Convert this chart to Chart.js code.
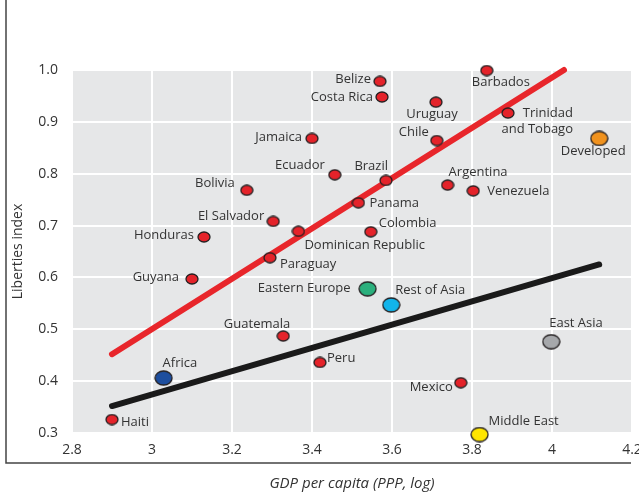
<!DOCTYPE html>
<html>
<head>
<meta charset="utf-8">
<script src="https://cdn.jsdelivr.net/npm/chart.js@4/dist/chart.umd.min.js"></script>
<style>
  html, body { margin: 0; padding: 0; background: #fff; }
  #wrap { width: 639px; height: 494px; position: relative; }
</style>
</head>
<body>
<div id="wrap"><canvas id="chart" width="639" height="494"></canvas></div>
<script>
// Country points (red)
const countryNames = ['Belize', 'Costa Rica', 'Barbados', 'Uruguay', 'Trinidad\nand Tobago', 'Chile',
  'Jamaica', 'Ecuador', 'Brazil', 'Argentina', 'Venezuela', 'Bolivia', 'Panama', 'El Salvador',
  'Colombia', 'Dominican Republic', 'Honduras', 'Paraguay', 'Guyana', 'Guatemala', 'Peru', 'Mexico', 'Haiti'];
const countryGdp = [3.57, 3.575, 3.837, 3.71, 3.89, 3.712, 3.40, 3.457, 3.585, 3.739, 3.803, 3.237, 3.516, 3.303,
  3.547, 3.366, 3.13, 3.295, 3.10, 3.328, 3.42, 3.772, 2.90];
const countryLib = [0.978, 0.948, 0.999, 0.938, 0.917, 0.864, 0.868, 0.798, 0.787, 0.778, 0.767, 0.768, 0.744, 0.708,
  0.688, 0.689, 0.678, 0.638, 0.597, 0.487, 0.436, 0.397, 0.326];

// Region averages (large coloured points)
const regionNames = ['Developed', 'Eastern Europe', 'Rest of Asia', 'East Asia', 'Africa', 'Middle East'];
const regionGdp = [4.118, 3.539, 3.598, 3.998, 3.029, 3.819];
const regionLib = [0.868, 0.578, 0.547, 0.476, 0.406, 0.297];

// Fitted lines (end points)
const redLineGdp = [2.90, 4.03];
const redLineLib = [0.452, 1.0];
const blackLineGdp = [2.90, 4.118];
const blackLineLib = [0.352, 0.625];

// Tick labels
const xTickLabels = ['2.8', '3', '3.2', '3.4', '3.6', '3.8', '4', '4.2'];
const yTickLabels = ['0.3', '0.4', '0.5', '0.6', '0.7', '0.8', '0.9', '1.0'];

// Label placement: [dx, dy, align]
const countryLabelPos = {
  'Belize': [-9, -2, 'right'], 'Costa Rica': [-9, 0, 'right'], 'Barbados': [-15, 12, 'left'],
  'Uruguay': [-4, 12, 'center'], 'Trinidad\nand Tobago': [65, 0, 'right'], 'Chile': [-8, -8, 'right'],
  'Jamaica': [-10, -1, 'right'], 'Ecuador': [-10, -9, 'right'], 'Brazil': [2, -14, 'right'],
  'Argentina': [1, -13, 'left'], 'Venezuela': [14, 0, 'left'], 'Bolivia': [-12, -7, 'right'],
  'Panama': [11, 1, 'left'], 'El Salvador': [-9, -5, 'right'], 'Colombia': [8, -8, 'left'],
  'Dominican Republic': [6, 14, 'left'], 'Honduras': [-10, -2, 'right'], 'Paraguay': [10, 7, 'left'],
  'Guyana': [-13, -2, 'right'], 'Guatemala': [7, -12, 'right'], 'Peru': [7, -4, 'left'],
  'Mexico': [-8, 5, 'right'], 'Haiti': [9, 3, 'left']
};
const regionLabelPos = {
  'Developed': [-6, 13, 'center'], 'Eastern Europe': [-17, -1, 'right'], 'Rest of Asia': [4, -15, 'left'],
  'East Asia': [-2, -18, 'left'], 'Africa': [-1, -15, 'left'], 'Middle East': [9, -13, 'left']
};
const regionColors = ['#f0921e', '#2bb07d', '#12b4ea', '#a6a8ab', '#1d4e9e', '#ffe600'];

const FONT = '"Open Sans", "DejaVu Sans", sans-serif';
const TEXT = '#333333';

function ellipse(w, h, fill) {
  const c = document.createElement('canvas');
  c.width = w + 2; c.height = h + 2;
  const g = c.getContext('2d');
  g.beginPath();
  g.ellipse(c.width / 2, c.height / 2, w / 2, h / 2, 0, 0, Math.PI * 2);
  g.fillStyle = fill;
  g.fill();
  g.lineWidth = 1.3;
  g.strokeStyle = '#231f20';
  g.stroke();
  return c;
}

const redDot = ellipse(12, 10, '#e4232a');
const regionDots = regionColors.map(c => ellipse(17, 14, c));

const plotBg = {
  id: 'plotBg',
  beforeDraw(chart) {
    const { ctx, chartArea: a } = chart;
    ctx.save();
    ctx.fillStyle = '#e6e7e8';
    ctx.fillRect(a.left, a.top, a.right - a.left, a.bottom - a.top);
    ctx.restore();
  },
  afterDraw(chart) {
    const { ctx } = chart;
    ctx.save();
    ctx.strokeStyle = '#444';
    ctx.lineWidth = 1.5;
    ctx.beginPath();
    ctx.moveTo(6, 0);
    ctx.lineTo(6, 463);
    ctx.lineTo(631, 463);
    ctx.stroke();
    ctx.restore();
  }
};

const pointLabels = {
  id: 'pointLabels',
  afterDatasetsDraw(chart) {
    const { ctx } = chart;
    ctx.save();
    ctx.font = '13px ' + FONT;
    ctx.fillStyle = TEXT;
    ctx.textBaseline = 'middle';
    const sets = [[2, countryNames, countryLabelPos], [3, regionNames, regionLabelPos]];
    sets.forEach(([di, names, pos]) => {
      const meta = chart.getDatasetMeta(di);
      meta.data.forEach((pt, i) => {
        const p = pos[names[i]];
        ctx.textAlign = p[2];
        names[i].split('\n').forEach((line, j) => {
          ctx.fillText(line, pt.x + p[0], pt.y + p[1] + j * 16);
        });
      });
    });
    ctx.restore();
  }
};

new Chart(document.getElementById('chart'), {
  type: 'scatter',
  data: {
    datasets: [
      {
        type: 'line', order: 2,
        data: redLineGdp.map((x, i) => ({ x, y: redLineLib[i] })),
        borderColor: '#e8262b', borderWidth: 6, borderCapStyle: 'round',
        pointRadius: 0, fill: false, clip: false
      },
      {
        type: 'line', order: 3,
        data: blackLineGdp.map((x, i) => ({ x, y: blackLineLib[i] })),
        borderColor: '#1a1a1a', borderWidth: 6, borderCapStyle: 'round',
        pointRadius: 0, fill: false, clip: false
      },
      {
        order: 1, clip: false,
        data: countryGdp.map((x, i) => ({ x, y: countryLib[i] })),
        pointStyle: redDot, pointRadius: 6
      },
      {
        order: 0, clip: false,
        data: regionGdp.map((x, i) => ({ x, y: regionLib[i] })),
        pointStyle: regionDots, pointRadius: 8
      }
    ]
  },
  options: {
    responsive: false,
    animation: false,
    layout: { autoPadding: false, padding: { top: 70, right: 7, left: 0, bottom: 0 } },
    plugins: { legend: { display: false }, tooltip: { enabled: false } },
    scales: {
      x: {
        type: 'linear', min: 2.8, max: 4.2,
        afterFit(s) { s.height = 61; s.paddingLeft = 0; s.paddingRight = 0; },
        border: { display: false },
        grid: { color: '#ffffff', lineWidth: 2, drawTicks: false },
        ticks: {
          stepSize: 0.2, padding: 9, color: TEXT, font: { family: FONT, size: 14 },
          callback: (v, i) => xTickLabels[i]
        },
        title: {
          display: true, text: 'GDP per capita (PPP, log)', color: TEXT,
          font: { family: FONT, size: 15, style: 'italic' }, padding: { top: 0, bottom: 1 }
        }
      },
      y: {
        type: 'linear', min: 0.3, max: 1.0,
        afterFit(s) { s.width = 72; s.paddingTop = 0; s.paddingBottom = 0; },
        border: { display: false },
        grid: { color: '#ffffff', lineWidth: 2, drawTicks: false },
        ticks: {
          stepSize: 0.1, padding: 14, color: TEXT, font: { family: FONT, size: 14 },
          callback: (v, i) => yTickLabels[i]
        },
        title: {
          display: true, text: 'Liberties index', color: TEXT,
          font: { family: FONT, size: 14 }, padding: { top: 10, bottom: 0 }
        }
      }
    }
  },
  plugins: [plotBg, pointLabels]
});
</script>
</body>
</html>
